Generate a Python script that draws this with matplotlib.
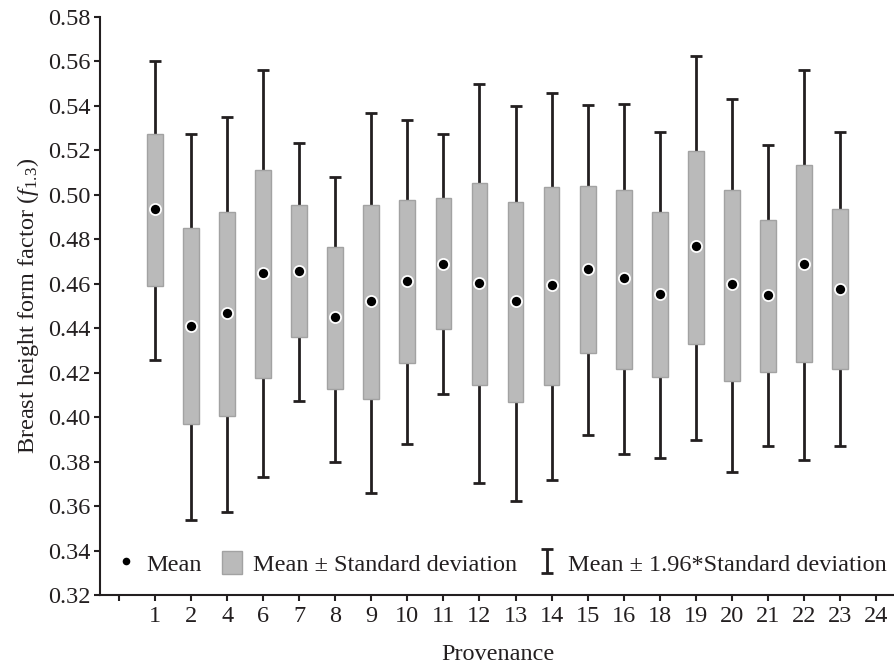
import matplotlib
matplotlib.use("Agg")
import matplotlib.pyplot as plt
import numpy as np

plt.rcParams["font.family"] = ["Liberation Serif", "DejaVu Serif"]
plt.rcParams["mathtext.fontset"] = "custom"
plt.rcParams["mathtext.rm"] = "Liberation Serif"
plt.rcParams["mathtext.it"] = "Liberation Serif:italic"

# Provenance labels along the x axis (first tick unlabeled, last has no data)
tick_labels = ["", "1", "2", "4", "6", "7", "8", "9", "10", "11", "12", "13",
               "14", "15", "16", "18", "19", "20", "21", "22", "23", "24"]
provenances = ["1", "2", "4", "6", "7", "8", "9", "10", "11", "12", "13",
               "14", "15", "16", "18", "19", "20", "21", "22", "23"]

# Form factor statistics per provenance
mean = [0.4935, 0.4410, 0.4466, 0.4648, 0.4656, 0.4450, 0.4521, 0.4610, 0.4687, 0.4601,
        0.4521, 0.4592, 0.4664, 0.4625, 0.4553, 0.4768, 0.4598, 0.4551, 0.4687, 0.4577]
sd_low = [0.4589, 0.3968, 0.4007, 0.4176, 0.4360, 0.4128, 0.4080, 0.4244, 0.4394, 0.4145,
          0.4068, 0.4145, 0.4289, 0.4215, 0.4178, 0.4329, 0.4163, 0.4202, 0.4247, 0.4215]
sd_high = [0.5271, 0.4848, 0.4921, 0.5110, 0.4952, 0.4765, 0.4952, 0.4975, 0.4984, 0.5053,
           0.4965, 0.5034, 0.5040, 0.5023, 0.4920, 0.5197, 0.5020, 0.4884, 0.5132, 0.4934]
ci_low = [0.4256, 0.3536, 0.3571, 0.3729, 0.4073, 0.3800, 0.3657, 0.3879, 0.4104, 0.3704,
          0.3624, 0.3719, 0.3920, 0.3833, 0.3816, 0.3896, 0.3752, 0.3872, 0.3809, 0.3872]
ci_high = [0.5601, 0.5271, 0.5350, 0.5560, 0.5232, 0.5080, 0.5368, 0.5335, 0.5271, 0.5497,
           0.5400, 0.5458, 0.5401, 0.5407, 0.5280, 0.5625, 0.5430, 0.5221, 0.5559, 0.5280]

ink = "#231f20"
fs = 17.5
fig = plt.figure(figsize=(8.95, 6.64), dpi=100)
ax = fig.add_axes([100 / 895, 1 - 595 / 664, 795 / 895, (595 - 16.7) / 664])

x = np.arange(1, len(provenances) + 1)
m = np.array(mean)
lo_sd = np.array(sd_low)
hi_sd = np.array(sd_high)
lo_ci = np.array(ci_low)
hi_ci = np.array(ci_high)

# whiskers: from the box edges out to mean ± 1.96 SD
eb = ax.errorbar(x, (lo_ci + hi_ci) / 2, yerr=(hi_ci - lo_ci) / 2, fmt="none",
                 ecolor=ink, elinewidth=2.0, capsize=4.5, capthick=2.0, zorder=1)
# boxes: mean ± SD
bars = ax.bar(x, hi_sd - lo_sd, bottom=lo_sd, width=0.44, color="#bababa",
              edgecolor="#a2a2a2", linewidth=1.0, zorder=2)
# means
pts, = ax.plot(x, m, "o", color="black", markersize=8, markeredgecolor="white",
               markeredgewidth=1.3, zorder=3, linestyle="none")

ax.set_xlim(-0.53, 21.53)
ax.set_ylim(0.32, 0.58)
ax.set_xticks(np.arange(len(tick_labels)))
ax.set_xticklabels(tick_labels)
yt = np.arange(0.32, 0.5801, 0.02)
ax.set_yticks(yt)
ax.set_yticklabels([f"{v:.2f}" for v in yt])

for side in ("top", "right"):
    ax.spines[side].set_visible(False)
for side in ("left", "bottom"):
    ax.spines[side].set_linewidth(1.5)
    ax.spines[side].set_color(ink)
ax.tick_params(direction="out", length=4, width=1.5, colors=ink, labelsize=fs)
ax.tick_params(axis="x", pad=4)
ax.tick_params(axis="y", pad=3)

ax.set_xlabel("Provenance", fontsize=fs, color=ink, labelpad=12)
ax.set_ylabel(r"Breast height form factor ($\mathit{f}_{1.3}$)", fontsize=fs,
              color=ink, labelpad=5)

# legend along the bottom of the plot area
bar_handle = bars.patches[0]
leg = ax.legend([pts, bar_handle, eb],
                ["Mean", "Mean \u00b1 Standard deviation", "Mean \u00b1 1.96*Standard deviation"],
                loc="center left", bbox_to_anchor=(0.02, 0.055), ncol=3, frameon=False,
                fontsize=17.5, handlelength=0.8, handleheight=1.1, handletextpad=0.45,
                columnspacing=0.85, borderaxespad=0.0, borderpad=0.0, markerscale=0.85)
for t in leg.get_texts():
    t.set_color(ink)

fig.savefig("out.png", dpi=100)
